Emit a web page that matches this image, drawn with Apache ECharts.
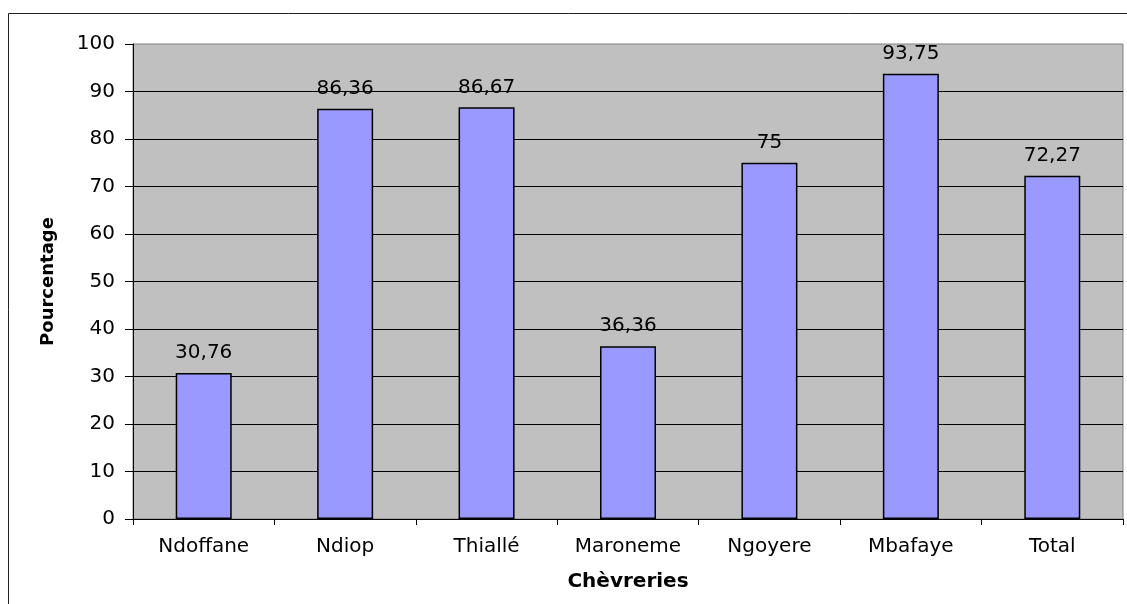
<!DOCTYPE html>
<html>
<head>
<meta charset="utf-8">
<script src="https://cdn.jsdelivr.net/npm/echarts@6/dist/echarts.min.js"></script>
<style>
  html, body { margin: 0; padding: 0; background: #fff; }
  #chart { width: 1127px; height: 604px; }
</style>
</head>
<body>
<div id="chart"></div>
<script>
// Taux par chèvrerie (%)
const categories = ['Ndoffane', 'Ndiop', 'Thiallé', 'Maroneme', 'Ngoyere', 'Mbafaye', 'Total'];
const values = [30.76, 86.36, 86.67, 36.36, 75, 93.75, 72.27];
const yTicks = [0, 10, 20, 30, 40, 50, 60, 70, 80, 90, 100];

const font = 'DejaVu Sans';
const chart = echarts.init(document.getElementById('chart'), null, { renderer: 'canvas' });

chart.setOption({
  animation: false,
  backgroundColor: '#ffffff',
  graphic: [{
    type: 'rect',
    shape: { x: 8.5, y: 13.5, width: 1130, height: 600 },
    style: { fill: 'none', stroke: '#222', lineWidth: 1 },
    silent: true, z: 0
  }],
  grid: {
    left: 133, top: 44, right: 4, bottom: 85,
    show: true, backgroundColor: '#C0C0C0', borderColor: '#808080', borderWidth: 1
  },
  xAxis: {
    type: 'category',
    data: categories,
    name: 'Chèvreries',
    nameLocation: 'middle',
    nameGap: 53,
    nameTextStyle: { fontFamily: font, fontWeight: 'bold', fontSize: 20, color: '#000' },
    axisLine: { lineStyle: { color: '#000', width: 1 } },
    axisTick: { show: true, length: 6, lineStyle: { color: '#000' } },
    axisLabel: { fontFamily: font, fontSize: 20, color: '#000', margin: 18 }
  },
  yAxis: {
    type: 'value',
    min: yTicks[0],
    max: yTicks[yTicks.length - 1],
    interval: yTicks[1] - yTicks[0],
    name: 'Pourcentage',
    nameLocation: 'middle',
    nameGap: 76,
    nameTextStyle: { fontFamily: font, fontWeight: 'bold', fontSize: 18, color: '#000' },
    axisLine: { show: true, lineStyle: { color: '#000', width: 1 } },
    axisTick: { show: true, length: 8, lineStyle: { color: '#000' } },
    axisLabel: { fontFamily: font, fontSize: 20, color: '#000', margin: 18 },
    splitLine: { show: true, showMaxLine: false, lineStyle: { color: '#000', width: 1 } }
  },
  series: [{
    type: 'bar',
    data: values,
    barWidth: 56,
    itemStyle: { color: '#9999FF', borderColor: '#000', borderWidth: 1.5 },
    label: {
      show: true,
      position: 'top',
      distance: 10,
      fontFamily: font,
      fontSize: 20,
      color: '#000',
      formatter: p => String(p.value).replace('.', ',')
    }
  }]
});
</script>
</body>
</html>
